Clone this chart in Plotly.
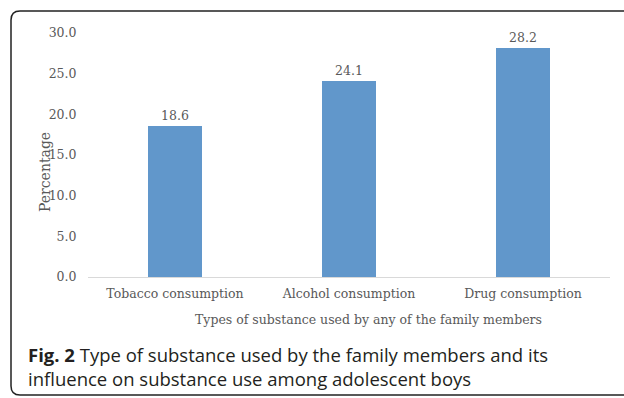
import plotly.graph_objects as go

categories = ["Tobacco consumption", "Alcohol consumption", "Drug consumption"]
values = [18.6, 24.1, 28.2]
y_ticks = [0, 5, 10, 15, 20, 25, 30]

# plot-area geometry in pixels (used to place frame/captions in paper coords)
L, R, T, B = 88, 610, 33, 277
W, H = R - L, B - T

def px(x):
    return (x - L) / W

def py(y):
    return (B - y) / H

serif = "DejaVu Serif"
gray = "#595959"

fig = go.Figure(go.Bar(
    x=categories, y=values,
    marker=dict(color="#6197CB", line=dict(width=0)),
    width=0.315,
    texttemplate="%{y:.1f}", textposition="outside",
    textfont=dict(family=serif, size=12.5, color=gray),
    cliponaxis=False,
))

fig.update_layout(
    width=624, height=398,
    margin=dict(l=L, r=624 - R, t=T, b=398 - B),
    plot_bgcolor="white", paper_bgcolor="white",
    showlegend=False,
    bargap=0,
    font=dict(family=serif, size=12.5, color=gray),
)
fig.update_xaxes(
    showline=True, linecolor="#d9d9d9", linewidth=1,
    showgrid=False, ticks="outside", ticklen=5, tickcolor="rgba(0,0,0,0)",
    tickfont=dict(family=serif, size=12.5, color=gray),
)
fig.update_yaxes(
    range=[0, 30], tickvals=y_ticks, tickformat=".1f",
    showgrid=False, zeroline=False, showline=False,
    ticks="outside", ticklen=8, tickcolor="rgba(0,0,0,0)",
    tickfont=dict(family=serif, size=12.5, color=gray),
)

# frame with rounded left corners
x0, y0, x1, y1, r = 11, 11, 640, 395, 9
path = (f"M {px(x1)},{py(y0)} L {px(x0 + r)},{py(y0)} "
        f"Q {px(x0)},{py(y0)} {px(x0)},{py(y0 + r)} "
        f"L {px(x0)},{py(y1 - r)} Q {px(x0)},{py(y1)} {px(x0 + r)},{py(y1)} "
        f"L {px(x1)},{py(y1)}")
fig.add_shape(type="path", path=path, xref="paper", yref="paper",
              line=dict(color="#222222", width=1.5), layer="above")

fig.add_annotation(text="Percentage", textangle=-90, x=px(45), y=py(172),
                   xref="paper", yref="paper", xanchor="center", yanchor="middle",
                   showarrow=False, font=dict(family=serif, size=14, color=gray))
fig.add_annotation(text="Types of substance used by any of the family members",
                   x=px(368), y=py(319), xref="paper", yref="paper",
                   xanchor="center", yanchor="middle", showarrow=False,
                   font=dict(family=serif, size=12.5, color=gray))

cap = "Open Sans"
fig.add_annotation(text="<b>Fig. 2</b> Type of substance used by the family members and its"
                        "<br>influence on substance use among adolescent boys",
                   x=px(26), y=py(366), xref="paper", yref="paper",
                   xanchor="left", yanchor="middle", align="left",
                   showarrow=False, font=dict(family=cap, size=18.5, color="#231f20"))

fig.write_html("out.html")
